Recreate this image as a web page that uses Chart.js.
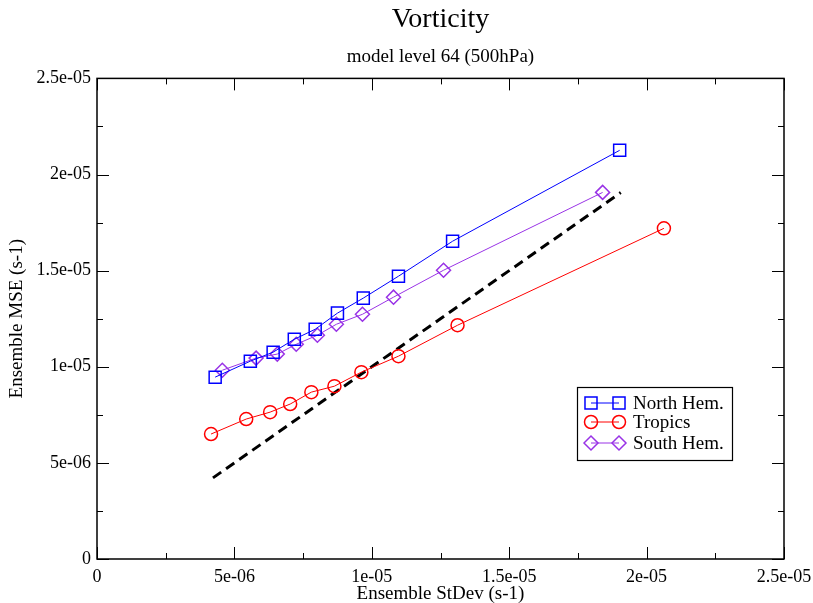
<!DOCTYPE html>
<html>
<head>
<meta charset="utf-8">
<script src="https://cdn.jsdelivr.net/npm/chart.js@4.4.1/dist/chart.umd.min.js"></script>
<style>
  html, body { margin: 0; padding: 0; background: #fff; }
  #wrap { width: 813px; height: 603px; }
</style>
</head>
<body>
<div id="wrap"><canvas id="myChart" width="813" height="603"></canvas></div>
<script>
// valores (s-1)
const northX = [4.30e-6, 5.58e-6, 6.41e-6, 7.18e-6, 7.94e-6, 8.75e-6, 9.69e-6, 10.97e-6, 12.94e-6, 19.02e-6];
const northY = [9.46e-6, 10.29e-6, 10.76e-6, 11.43e-6, 11.95e-6, 12.79e-6, 13.57e-6, 14.71e-6, 16.53e-6, 21.26e-6];
const tropX = [4.15e-6, 5.43e-6, 6.30e-6, 7.03e-6, 7.80e-6, 8.64e-6, 9.62e-6, 10.97e-6, 13.12e-6, 20.63e-6];
const tropY = [6.50e-6, 7.28e-6, 7.64e-6, 8.06e-6, 8.68e-6, 8.99e-6, 9.72e-6, 10.55e-6, 12.16e-6, 17.20e-6];
const southX = [4.56e-6, 5.79e-6, 6.56e-6, 7.25e-6, 8.02e-6, 8.71e-6, 9.66e-6, 10.79e-6, 12.61e-6, 18.40e-6];
const southY = [9.82e-6, 10.45e-6, 10.66e-6, 11.17e-6, 11.64e-6, 12.21e-6, 12.73e-6, 13.62e-6, 15.02e-6, 19.07e-6];
const diagX = [4.22e-6, 19.06e-6];
const diagY = [4.22e-6, 19.06e-6];

const seriesNames = ['North Hem.', 'Tropics', 'South Hem.'];
const tickLabels = ['0', '5e-06', '1e-05', '1.5e-05', '2e-05', '2.5e-05'];
const majorTicks = [0, 5e-6, 1e-5, 1.5e-5, 2e-5, 2.5e-5];
const minorTicks = [2.5e-6, 7.5e-6, 1.25e-5, 1.75e-5, 2.25e-5];

const AXIS_MAX = 2.5e-5;
const FONT = '"Liberation Serif", "DejaVu Serif", serif';

const BLUE = '#0000ff';
const RED = '#ff0000';
const VIOLET = '#9933e6';

function toPoints(xs, ys) {
    return xs.map((x, i) => ({ x: x, y: ys[i] }));
}

function serie(label, xs, ys, color, style, radius) {
    return {
        label: label,
        data: toPoints(xs, ys),
        borderColor: color,
        backgroundColor: 'rgba(0,0,0,0)',
        borderWidth: 1,
        pointStyle: style,
        pointRadius: radius,
        pointBorderWidth: 1.5,
        pointBorderColor: color,
        pointBackgroundColor: 'rgba(0,0,0,0)',
        showLine: true,
        tension: 0
    };
}

// marco y ticks hacia adentro, como en xmgrace
const framePlugin = {
    id: 'frame',
    afterDraw(chart) {
        const { ctx, chartArea: a, scales } = chart;
        ctx.save();
        ctx.strokeStyle = '#000';
        ctx.lineWidth = 1.5;
        ctx.strokeRect(a.left, a.top, a.right - a.left, a.bottom - a.top);
        ctx.lineWidth = 1;
        const dibujar = (valores, largo) => {
            valores.forEach(v => {
                const px = Math.round(scales.x.getPixelForValue(v)) + 0.5;
                const py = Math.round(scales.y.getPixelForValue(v)) + 0.5;
                ctx.beginPath();
                ctx.moveTo(px, a.bottom); ctx.lineTo(px, a.bottom - largo);
                ctx.moveTo(px, a.top); ctx.lineTo(px, a.top + largo);
                ctx.moveTo(a.left, py); ctx.lineTo(a.left + largo, py);
                ctx.moveTo(a.right, py); ctx.lineTo(a.right - largo, py);
                ctx.stroke();
            });
        };
        dibujar(majorTicks, 12);
        dibujar(minorTicks, 6);
        ctx.restore();
    }
};

// leyenda con linea y dos simbolos
const legendPlugin = {
    id: 'legendaGrace',
    afterDraw(chart) {
        const { ctx } = chart;
        const box = { x: 577, y: 387, w: 155, h: 73 };
        ctx.save();
        ctx.fillStyle = '#fff';
        ctx.fillRect(box.x, box.y, box.w, box.h);
        ctx.strokeStyle = '#000';
        ctx.lineWidth = 1.2;
        ctx.strokeRect(box.x + 0.5, box.y + 0.5, box.w, box.h);
        const filas = [403, 422, 443];
        chart.data.datasets.slice(0, 3).forEach((ds, i) => {
            const y = filas[i];
            ctx.strokeStyle = ds.borderColor;
            ctx.lineWidth = 1;
            ctx.beginPath();
            ctx.moveTo(591, y); ctx.lineTo(619, y);
            ctx.stroke();
            [591, 619].forEach(x => {
                ctx.lineWidth = 1.5;
                ctx.strokeStyle = ds.borderColor;
                ctx.fillStyle = 'rgba(0,0,0,0)';
                Chart.helpers.drawPoint(ctx, {
                    pointStyle: ds.pointStyle,
                    radius: ds.pointRadius,
                    borderWidth: 1.5,
                    rotation: 0
                }, x, y);
            });
            ctx.fillStyle = '#000';
            ctx.font = '19px ' + FONT;
            ctx.textBaseline = 'middle';
            ctx.fillText(ds.label, 633, y + 1);
        });
        ctx.restore();
    }
};

function tickCallback(value) {
    const i = majorTicks.findIndex(t => Math.abs(t - value) < 1e-12);
    return i >= 0 ? tickLabels[i] : '';
}

const config = {
    type: 'scatter',
    data: {
        datasets: [
            serie(seriesNames[0], northX, northY, BLUE, 'rect', 8.5),
            serie(seriesNames[1], tropX, tropY, RED, 'circle', 6.5),
            serie(seriesNames[2], southX, southY, VIOLET, 'rectRot', 7),
            {
                label: 'diag',
                data: toPoints(diagX, diagY),
                borderColor: '#000',
                borderWidth: 3,
                borderDash: [10, 6],
                pointRadius: 0,
                showLine: true,
                tension: 0
            }
        ]
    },
    options: {
        responsive: false,
        animation: false,
        layout: { padding: { right: 29, left: 0, top: 0, bottom: 0 } },
        plugins: {
            legend: { display: false },
            tooltip: { enabled: false },
            title: {
                display: true,
                text: 'Vorticity',
                fullSize: false,
                color: '#000',
                font: { family: FONT, size: 28, weight: 'normal' },
                padding: { top: 3, bottom: 2 }
            },
            subtitle: {
                display: true,
                text: 'model level 64 (500hPa)',
                fullSize: false,
                color: '#000',
                font: { family: FONT, size: 19, weight: 'normal' },
                padding: { top: 7, bottom: 10 }
            }
        },
        scales: {
            x: {
                type: 'linear',
                min: 0,
                max: AXIS_MAX,
                grid: { display: false, drawTicks: false },
                border: { display: false },
                ticks: {
                    stepSize: 5e-6,
                    color: '#000',
                    padding: 7,
                    maxRotation: 0,
                    font: { family: FONT, size: 18 },
                    callback: tickCallback
                },
                title: {
                    display: true,
                    text: 'Ensemble StDev (s-1)',
                    color: '#000',
                    padding: { top: 0, bottom: -2 },
                    font: { family: FONT, size: 19 }
                },
                afterFit(scale) {
                    scale.height = 44;
                    scale.paddingLeft = 0;
                    scale.paddingRight = 0;
                }
            },
            y: {
                type: 'linear',
                min: 0,
                max: AXIS_MAX,
                grid: { display: false, drawTicks: false },
                border: { display: false },
                ticks: {
                    stepSize: 5e-6,
                    color: '#000',
                    padding: 6,
                    font: { family: FONT, size: 18 },
                    callback: tickCallback
                },
                title: {
                    display: true,
                    text: 'Ensemble MSE (s-1)',
                    color: '#000',
                    padding: { top: 6, bottom: 0 },
                    font: { family: FONT, size: 19 }
                },
                afterFit(scale) { scale.width = 97; }
            }
        }
    },
    plugins: [framePlugin, legendPlugin]
};

const myChart = new Chart(document.getElementById('myChart').getContext('2d'), config);
</script>
</body>
</html>
